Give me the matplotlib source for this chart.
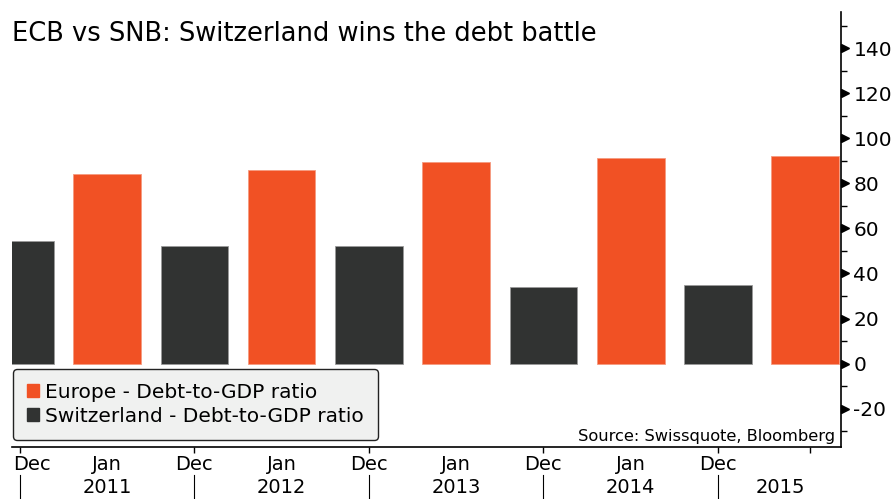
import numpy as np
import matplotlib.pyplot as plt
import matplotlib.transforms as mtransforms
from matplotlib.patches import Patch

plt.rcParams["axes.unicode_minus"] = False

# Data (Debt-to-GDP ratio, %)
switzerland = [54.5, 52.3, 52.4, 34.0, 34.9]
europe = [84.0, 86.1, 89.4, 91.1, 92.3]
month_labels = ["Dec", "Jan", "Dec", "Jan", "Dec", "Jan", "Dec", "Jan", "Dec"]
year_labels = ["2011", "2012", "2013", "2014", "2015"]

orange = "#F15124"
dark = "#313332"

fig = plt.figure(figsize=(8.93, 4.99), dpi=100)
ax = fig.add_axes([12 / 893, 1 - 447 / 499, 829 / 893, 435 / 499])

# Bars alternate: Switzerland at even slots, Europe at odd slots
sw_x = np.arange(len(switzerland)) * 2
eu_x = np.arange(len(europe)) * 2 + 1
ax.bar(sw_x, switzerland, width=0.775, color=dark, edgecolor="#9a9a9a", linewidth=0.6,
       label="Switzerland - Debt-to-GDP ratio")
ax.bar(eu_x, europe, width=0.775, color=orange, edgecolor="#f59a80", linewidth=0.6,
       label="Europe - Debt-to-GDP ratio")

ax.set_xlim(-0.09, 9.41)
ax.set_ylim(-37, 156)

# Spines
for s in ["top", "left"]:
    ax.spines[s].set_visible(False)
ax.spines["right"].set_linewidth(1.2)
ax.spines["bottom"].set_linewidth(1.2)

# Y axis on the right
ax.yaxis.tick_right()
ax.set_yticks(np.arange(-20, 141, 20))
ax.set_yticks(np.arange(-30, 156, 10), minor=True)
ax.tick_params(axis="y", which="major", length=0, pad=9, labelsize=14.5)
ax.tick_params(axis="y", which="minor", length=4, width=1)
ytr = mtransforms.blended_transform_factory(ax.transAxes, ax.transData)
ax.plot([1.0045] * 9, np.arange(-20, 141, 20), marker=">", markersize=6, color="black",
        linestyle="none", transform=ytr, clip_on=False)

# X axis: custom two-level labels
ax.set_xticks([0, 2, 4, 6, 8, 9.05])
ax.set_xticklabels([])
ax.tick_params(axis="x", which="major", length=4, width=1, direction="out")
xtr = mtransforms.blended_transform_factory(ax.transData, ax.transAxes)
month_pos = [0.14, 1, 2, 3, 4, 5, 6, 7, 8]
for pos, lab in zip(month_pos, month_labels):
    ax.text(pos, -0.040, lab, transform=xtr, ha="center", va="center", fontsize=14,
            clip_on=False)
year_pos = [1, 3, 5, 7, 8.71]
for pos, lab in zip(year_pos, year_labels):
    ax.text(pos, -0.094, lab, transform=xtr, ha="center", va="center", fontsize=14,
            clip_on=False)
for sep in [0, 2, 4, 6, 8]:
    ax.plot([sep, sep], [-0.064, -0.125], color="black", linewidth=0.8, transform=xtr,
            clip_on=False)

# Legend
handles = [Patch(color=orange), Patch(color=dark)]
labels = ["Europe - Debt-to-GDP ratio", "Switzerland - Debt-to-GDP ratio"]
leg = ax.legend(handles, labels, loc="lower left", bbox_to_anchor=(0.0015, 0.016),
                fontsize=14.5, handlelength=0.6, handleheight=0.6, handletextpad=0.3,
                labelspacing=0.25, borderpad=0.7, fancybox=True, framealpha=1,
                borderaxespad=0)
leg.get_frame().set_facecolor("#f0f1f0")
leg.get_frame().set_edgecolor("#222222")
leg.get_frame().set_linewidth(1)

ax.text(0.9925, 0.024, "Source: Swissquote, Bloomberg", transform=ax.transAxes,
        ha="right", va="center", fontsize=11.7)

fig.text(12 / 893, 1 - 41 / 499, "ECB vs SNB: Switzerland wins the debt battle",
         ha="left", va="baseline", fontsize=18.5)

fig.savefig("out.png", dpi=100)
